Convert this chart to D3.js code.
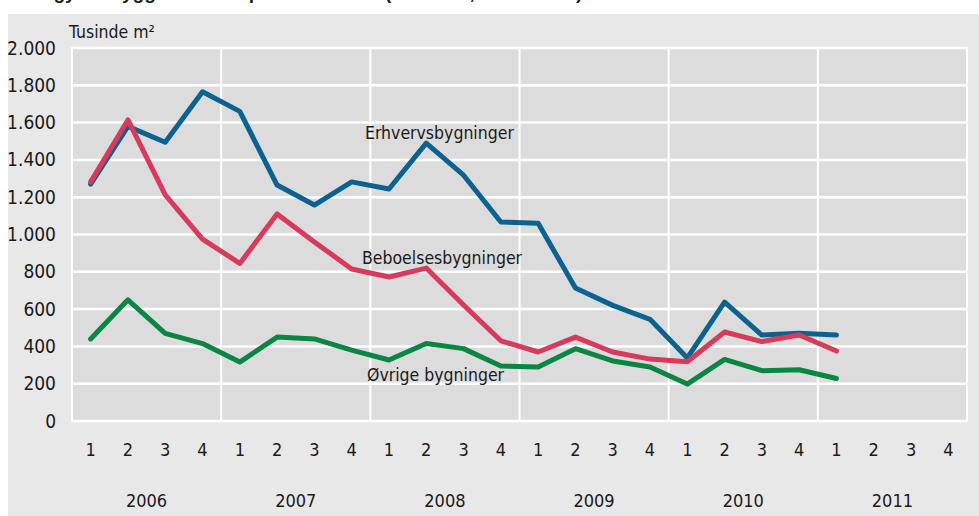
<!DOCTYPE html>
<html>
<head>
<meta charset="utf-8">
<script src="https://cdn.jsdelivr.net/npm/d3@7"></script>
<style>
  body { margin: 0; background: #fff; }
  svg { display: block; }
  text { font-family: "Liberation Sans Narrow", "DejaVu Sans Condensed", sans-serif; fill: #1a1a1a; }
</style>
</head>
<body>
<script>
// quarters 2006 Q1 .. 2011 Q4
const years = ["2006", "2007", "2008", "2009", "2010", "2011"];
const quarterLabels = ["1", "2", "3", "4"];

// Tusinde m², one value per quarter (2006 Q1 to 2011 Q1)
const erhverv = [1270, 1580, 1495, 1765, 1660, 1265, 1158, 1282, 1244, 1490, 1318, 1067, 1060, 713, 620, 545, 338, 638, 461, 470, 461];
const beboelse = [1282, 1614, 1213, 975, 845, 1110, 960, 815, 772, 820, 622, 430, 370, 450, 370, 332, 318, 477, 426, 461, 375];
const oevrige = [440, 650, 470, 415, 316, 450, 440, 380, 327, 416, 388, 295, 290, 388, 322, 290, 198, 330, 270, 275, 228];

const yTicks = [0, 200, 400, 600, 800, 1000, 1200, 1400, 1600, 1800, 2000];

const series = [
  { name: "Erhvervsbygninger", values: erhverv, color: "#0b6290", lx: 365, ly: 139 },
  { name: "Beboelsesbygninger", values: beboelse, color: "#d83a5b", lx: 362, ly: 264 },
  { name: "Øvrige bygninger", values: oevrige, color: "#0a8643", lx: 367, ly: 381 }
];

const W = 979, H = 516;
const margin = { left: 72, right: 12, top: 48, bottom: 95 };

const svg = d3.select("body").append("svg")
  .attr("width", W)
  .attr("height", H);

// title, cut off at the very top like in the source
svg.append("text")
  .attr("x", 8)
  .attr("y", -1)
  .style("font-family", "'Liberation Sans', sans-serif")
  .style("font-weight", "bold")
  .style("font-size", "19px")
  .text("Påbegyndt byggeri fordelt på anvendelse (kvartaler, tusinde m²)");

// gray panel
svg.append("rect")
  .attr("x", 8).attr("y", 14)
  .attr("width", W - 8).attr("height", H - 14)
  .attr("fill", "#e8e8e8");

const quarters = [];
years.forEach(y => quarterLabels.forEach(q => quarters.push(y + "-" + q)));

const x = d3.scaleBand()
  .domain(quarters)
  .range([margin.left, W - margin.right]);

const y = d3.scaleLinear()
  .domain([0, 2000])
  .range([H - margin.bottom, margin.top]);

// plot background
svg.append("rect")
  .attr("x", margin.left).attr("y", margin.top)
  .attr("width", W - margin.right - margin.left)
  .attr("height", H - margin.bottom - margin.top)
  .attr("fill", "#dcdcdc")
  .attr("stroke", "#fff")
  .attr("stroke-width", 2);

// horizontal gridlines
svg.append("g")
  .selectAll("line")
  .data(yTicks)
  .join("line")
  .attr("x1", margin.left).attr("x2", W - margin.right)
  .attr("y1", d => y(d)).attr("y2", d => y(d))
  .attr("stroke", "#fff")
  .attr("stroke-width", 2.5);

// vertical lines between years
svg.append("g")
  .selectAll("line")
  .data(years.slice(1))
  .join("line")
  .attr("x1", d => x(d + "-1")).attr("x2", d => x(d + "-1"))
  .attr("y1", margin.top).attr("y2", H - margin.bottom)
  .attr("stroke", "#fff")
  .attr("stroke-width", 2);

// y axis labels
const yAxis = d3.axisLeft(y)
  .tickValues(yTicks)
  .tickSize(0)
  .tickPadding(16)
  .tickFormat(d => d3.format(",")(d).replace(/,/g, "."));

svg.append("g")
  .attr("transform", `translate(${margin.left},0)`)
  .call(yAxis)
  .call(g => g.select(".domain").remove())
  .selectAll("text")
  .style("font-family", null)
  .style("font-size", "19px")
  .attr("fill", "#1a1a1a");

svg.append("text")
  .attr("x", 69).attr("y", 38)
  .style("font-size", "17.5px")
  .text("Tusinde m²");

// quarter labels
const xAxis = d3.axisBottom(x)
  .tickSize(0)
  .tickPadding(0)
  .tickFormat(d => d.split("-")[1]);

svg.append("g")
  .attr("transform", `translate(0,${H - margin.bottom + 22})`)
  .call(xAxis)
  .call(g => g.select(".domain").remove())
  .selectAll("text")
  .style("font-family", null)
  .style("font-size", "18px")
  .attr("fill", "#1a1a1a");

// year labels
svg.append("g")
  .selectAll("text")
  .data(years)
  .join("text")
  .attr("x", d => (x(d + "-1") + x(d + "-4") + x.bandwidth()) / 2)
  .attr("y", 507)
  .attr("text-anchor", "middle")
  .style("font-size", "18px")
  .text(d => d);

// lines
const line = d3.line()
  .x((d, i) => x(quarters[i]) + x.bandwidth() / 2)
  .y(d => y(d));

svg.append("g")
  .selectAll("path")
  .data(series)
  .join("path")
  .attr("d", d => line(d.values))
  .attr("fill", "none")
  .attr("stroke", d => d.color)
  .attr("stroke-width", 5)
  .attr("stroke-linejoin", "round")
  .attr("stroke-linecap", "round");

// series labels
svg.append("g")
  .selectAll("text")
  .data(series)
  .join("text")
  .attr("x", d => d.lx)
  .attr("y", d => d.ly)
  .style("font-size", "17.5px")
  .text(d => d.name);
</script>
</body>
</html>
